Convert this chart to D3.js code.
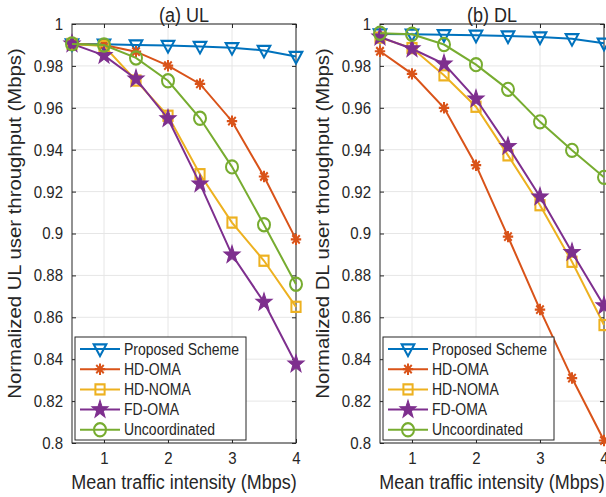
<!doctype html>
<html lang="en">
<head>
<meta charset="UTF-8">
<title>UL / DL throughput</title>
<script src="https://d3js.org/d3.v7.min.js"></script>
<style>
  body { margin: 0; background: #fff; }
  text { font-family: "Liberation Sans", Arial, sans-serif; fill: #262626;
         transform-box: fill-box; transform-origin: center; transform: scaleY(1.13); }
  text.vlabel { transform: scaleX(1.13); }
</style>
</head>
<body>
<div id="chart"></div>
<script>
// data
const traffic = [0.5, 1, 1.5, 2, 2.5, 3, 3.5, 4];
const seriesNames = ["Proposed Scheme", "HD-OMA", "HD-NOMA", "FD-OMA", "Uncoordinated"];

const ulProposed = [0.9905, 0.9903, 0.9900, 0.9897, 0.9893, 0.9887, 0.9874, 0.9845];
const ulHdOma    = [0.9905, 0.9900, 0.9868, 0.9801, 0.9714, 0.9536, 0.9272, 0.8972];
const ulHdNoma   = [0.9905, 0.9895, 0.9730, 0.9562, 0.9283, 0.9052, 0.8870, 0.8650];
const ulFdOma    = [0.9905, 0.9850, 0.9738, 0.9548, 0.9237, 0.8898, 0.8672, 0.8377];
const ulUncoord  = [0.9905, 0.9900, 0.9838, 0.9729, 0.9550, 0.9318, 0.9042, 0.8758];

const dlProposed = [0.9952, 0.9951, 0.9949, 0.9946, 0.9943, 0.9938, 0.9930, 0.9908];
const dlHdOma    = [0.9870, 0.9762, 0.9600, 0.9326, 0.8985, 0.8637, 0.8310, 0.8012];
const dlHdNoma   = [0.9935, 0.9885, 0.9755, 0.9605, 0.9373, 0.9135, 0.8865, 0.8563];
const dlFdOma    = [0.9938, 0.9882, 0.9810, 0.9642, 0.9416, 0.9175, 0.8910, 0.8655];
const dlUncoord  = [0.9956, 0.9951, 0.9902, 0.9806, 0.9688, 0.9533, 0.9397, 0.9268];

const xTicks = [1, 2, 3, 4];
const yTicks = [0.8, 0.82, 0.84, 0.86, 0.88, 0.9, 0.92, 0.94, 0.96, 0.98, 1];
const yTickLabels = ["0.8", "0.82", "0.84", "0.86", "0.88", "0.9", "0.92", "0.94", "0.96", "0.98", "1"];

const colors  = ["#0072BD", "#D95319", "#EDB120", "#7E2F8E", "#77AC30"];
const markers = ["tri", "ast", "sq", "star", "circ"];

const panels = [
  { title: "(a) UL", ylabel: "Normalized UL user throughput (Mbps)", left: 72,
    series: [ulProposed, ulHdOma, ulHdNoma, ulFdOma, ulUncoord] },
  { title: "(b) DL", ylabel: "Normalized DL user throughput (Mbps)", left: 380,
    series: [dlProposed, dlHdOma, dlHdNoma, dlFdOma, dlUncoord] }
];

const W = 606, H = 497;
const plotW = 224, plotTop = 24, plotBottom = 443;
const axisColor = "#262626";

const svg = d3.select("#chart").append("svg")
  .attr("width", W).attr("height", H);

// star path (pentagram) centred at 0,0
function starPath(r) {
  const pts = [];
  for (let i = 0; i < 10; i++) {
    const rr = i % 2 === 0 ? r : r * 0.4;
    const a = -Math.PI / 2 + i * Math.PI / 5;
    pts.push([rr * Math.cos(a), rr * Math.sin(a)]);
  }
  return "M" + pts.map(p => p.join(",")).join("L") + "Z";
}

function drawMarker(g, type, color) {
  if (type === "tri") {
    g.append("path").attr("d", "M-6.3,-4.2L6.3,-4.2L0,6.4Z")
      .attr("fill", "none").attr("stroke", color).attr("stroke-width", 2);
  } else if (type === "ast") {
    const r = 5.2, d = r * 0.72;
    g.append("path")
      .attr("d", `M${-r},0L${r},0M0,${-r}L0,${r}M${-d},${-d}L${d},${d}M${-d},${d}L${d},${-d}`)
      .attr("stroke", color).attr("stroke-width", 2);
  } else if (type === "sq") {
    g.append("rect").attr("x", -4.6).attr("y", -4.6).attr("width", 9.2).attr("height", 9.2)
      .attr("fill", "none").attr("stroke", color).attr("stroke-width", 2);
  } else if (type === "star") {
    g.append("path").attr("d", starPath(8.5))
      .attr("fill", color).attr("stroke", color).attr("stroke-width", 1);
  } else {
    g.append("circle").attr("r", 6)
      .attr("fill", "none").attr("stroke", color).attr("stroke-width", 2);
  }
}

panels.forEach(function(p) {
  const x = d3.scaleLinear().domain([0.5, 4]).range([p.left, p.left + plotW]);
  const y = d3.scaleLinear().domain([0.8, 1]).range([plotBottom, plotTop]);
  const g = svg.append("g");

  // grid
  g.selectAll(".gx").data(xTicks).enter().append("line")
    .attr("x1", d => x(d)).attr("x2", d => x(d))
    .attr("y1", plotTop).attr("y2", plotBottom)
    .attr("stroke", "#e6e6e6").attr("stroke-width", 1);
  g.selectAll(".gy").data(yTicks).enter().append("line")
    .attr("x1", p.left).attr("x2", p.left + plotW)
    .attr("y1", d => y(d)).attr("y2", d => y(d))
    .attr("stroke", "#e6e6e6").attr("stroke-width", 1);

  // axes (ticks inward, on all four sides)
  const ax = d3.axisBottom(x).tickValues(xTicks).tickSize(-4).tickPadding(10).tickFormat(d3.format("d"));
  const ay = d3.axisLeft(y).tickValues(yTicks).tickSize(-4).tickPadding(9)
    .tickFormat((d, i) => yTickLabels[i]);
  const axTop = d3.axisTop(x).tickValues(xTicks).tickSize(-4).tickFormat("");
  const ayRight = d3.axisRight(y).tickValues(yTicks).tickSize(-4).tickFormat("");

  [[ax, `translate(0,${plotBottom})`], [ay, `translate(${p.left},0)`],
   [axTop, `translate(0,${plotTop})`], [ayRight, `translate(${p.left + plotW},0)`]].forEach(function(a) {
    const ag = g.append("g").attr("transform", a[1]).call(a[0]);
    ag.select(".domain").remove();
    ag.selectAll("line").attr("stroke", axisColor);
    ag.selectAll("text").attr("font-size", "15px").attr("fill", axisColor)
      .attr("font-family", '"Liberation Sans", Arial, sans-serif');
  });
  g.append("rect").attr("x", p.left).attr("y", plotTop)
    .attr("width", plotW).attr("height", plotBottom - plotTop)
    .attr("fill", "none").attr("stroke", axisColor).attr("stroke-width", 1);

  // series
  const line = d3.line().x((d, i) => x(traffic[i])).y(d => y(d));
  p.series.forEach(function(vals, k) {
    g.append("path").datum(vals).attr("d", line)
      .attr("fill", "none").attr("stroke", colors[k]).attr("stroke-width", 2);
    vals.forEach(function(v, i) {
      const mg = g.append("g")
        .attr("transform", `translate(${x(traffic[i])},${y(v)}) scale(1,1.1)`);
      drawMarker(mg, markers[k], colors[k]);
    });
  });

  // title and labels
  g.append("text").attr("x", p.left + plotW / 2).attr("y", 21)
    .attr("text-anchor", "middle").attr("font-size", "18px").text(p.title);
  g.append("text").attr("x", p.left + plotW / 2).attr("y", 488)
    .attr("text-anchor", "middle").attr("font-size", "18px").text("Mean traffic intensity (Mbps)");
  g.append("g")
    .attr("transform", `translate(${p.left - 51},${(plotTop + plotBottom) / 2 - 10}) rotate(-90)`)
    .append("text").attr("class", "vlabel")
    .attr("text-anchor", "middle").attr("font-size", "18px").text(p.ylabel);

  // legend
  const lx = p.left + 3, ly = 337, lw = 171, lh = 103;
  const leg = g.append("g");
  leg.append("rect").attr("x", lx).attr("y", ly).attr("width", lw).attr("height", lh)
    .attr("fill", "#fff").attr("stroke", axisColor).attr("stroke-width", 1);
  seriesNames.forEach(function(name, k) {
    const yy = ly + 12 + k * 20.2;
    leg.append("line").attr("x1", lx + 5).attr("x2", lx + 45)
      .attr("y1", yy).attr("y2", yy).attr("stroke", colors[k]).attr("stroke-width", 2);
    drawMarker(leg.append("g").attr("transform", `translate(${lx + 25},${yy}) scale(1,1.1)`), markers[k], colors[k]);
    leg.append("text").attr("x", lx + 49).attr("y", yy + 5)
      .attr("font-size", "14px").text(name);
  });
});
</script>
</body>
</html>
